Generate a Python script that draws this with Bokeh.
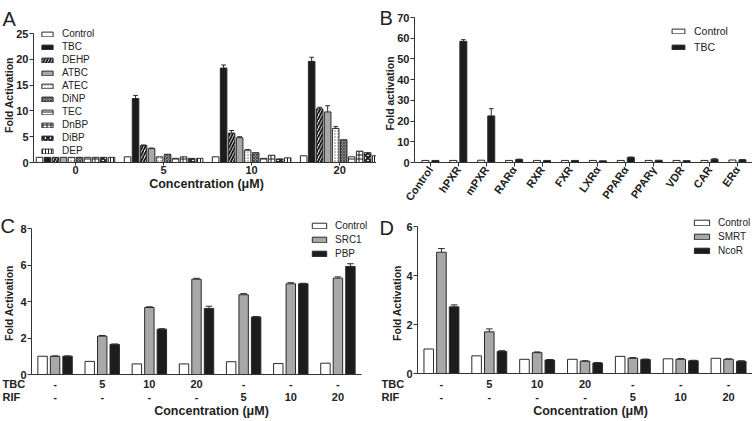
from math import pi
from bokeh.plotting import figure
from bokeh.layouts import column, row
from bokeh.models import Range1d, FixedTicker, Legend, LegendItem, Label
from bokeh.core.properties import value
from bokeh.embed import file_html
from bokeh.resources import INLINE

FONT = "Liberation Sans"
BLACK = "#1c1c1c"
GRAY = "#a8a8a8"
EDGE = "#2a2a2a"
TXT = "#222222"

# ---------------- Panel A data ----------------
a_groups = ["0", "5", "10", "20"]
a_series = ["Control", "TBC", "DEHP", "ATBC", "ATEC", "DiNP", "TEC", "DnBP", "DiBP", "DEP"]
a_control = [1.0, 1.1, 1.1, 1.3]
a_tbc = [1.0, 12.4, 18.3, 19.6]
a_dehp = [1.0, 3.3, 5.7, 10.4]
a_atbc = [1.0, 2.7, 4.8, 9.8]
a_atec = [1.0, 1.1, 2.4, 6.6]
a_dinp = [1.0, 1.6, 1.9, 4.4]
a_tec = [1.0, 0.8, 0.8, 1.1]
a_dnbp = [1.0, 1.1, 1.4, 2.2]
a_dibp = [1.0, 0.8, 0.7, 1.9]
a_dep = [1.0, 0.8, 0.9, 1.3]
a_err_tbc = [0.0, 0.6, 0.6, 0.8]
a_err_dehp = [0.0, 0.1, 0.5, 0.3]
a_err_atbc = [0.0, 0.1, 0.2, 1.2]
a_err_atec = [0.0, 0.0, 0.1, 0.35]

# ---------------- Panel B data ----------------
b_receptors = ["Control", "hPXR", "mPXR", "RARα", "RXR", "FXR", "LXRα", "PPARα", "PPARγ", "VDR", "CAR", "ERα"]
b_control = [1.0, 1.0, 1.1, 1.0, 1.0, 1.0, 1.0, 1.0, 1.0, 1.0, 1.0, 1.2]
b_tbc = [1.0, 58.5, 22.5, 1.5, 1.0, 1.0, 0.8, 2.5, 1.1, 0.9, 1.6, 1.3]
b_tbc_err = [0.0, 0.8, 3.5, 0.1, 0.0, 0.0, 0.0, 0.1, 0.0, 0.0, 0.2, 0.1]

# ---------------- Panel C / D data ----------------
cd_tbc_labels = ["-", "5", "10", "20", "-", "-", "-"]
cd_rif_labels = ["-", "-", "-", "-", "5", "10", "20"]
c_control = [1.0, 0.72, 0.58, 0.58, 0.70, 0.60, 0.62]
c_src1 = [1.0, 2.1, 3.67, 5.22, 4.37, 4.97, 5.28]
c_pbp = [1.0, 1.65, 2.48, 3.62, 3.15, 4.97, 5.92]
c_src1_err = [0.02, 0.04, 0.04, 0.05, 0.06, 0.06, 0.07]
c_pbp_err = [0.02, 0.02, 0.03, 0.12, 0.03, 0.03, 0.15]
d_control = [1.0, 0.72, 0.58, 0.58, 0.70, 0.60, 0.62]
d_smrt = [4.95, 1.70, 0.85, 0.50, 0.62, 0.58, 0.58]
d_ncor = [2.72, 0.90, 0.55, 0.43, 0.57, 0.52, 0.50]
d_smrt_err = [0.15, 0.12, 0.03, 0.02, 0.03, 0.03, 0.02]
d_ncor_err = [0.08, 0.03, 0.02, 0.02, 0.02, 0.02, 0.02]


class Panel:
    """Figure whose whole canvas is the plotting frame; the axes sit at fixed
    data locations so that the data box lands at box=(left, top, right, bottom) px."""

    def __init__(self, w, h, xr, yr, box):
        l, t, r, b = box
        self.w, self.h = w, h
        self.xppu = (r - l) / (xr[1] - xr[0])
        self.yppu = (b - t) / (yr[1] - yr[0])
        x0 = xr[0] - l / self.xppu
        x1 = xr[1] + (w - r) / self.xppu
        self.y0 = yr[0] - (h - b) / self.yppu
        y1 = yr[1] + t / self.yppu
        p = figure(width=w, height=h, x_range=Range1d(x0, x1), y_range=Range1d(self.y0, y1),
                   output_backend="svg", toolbar_location=None,
                   min_border_left=0, min_border_right=0, min_border_top=0, min_border_bottom=0)
        p.outline_line_color = None
        p.xgrid.visible = False
        p.ygrid.visible = False
        p.background_fill_color = "white"
        p.border_fill_color = "white"
        for ax in p.xaxis:
            ax.fixed_location = yr[0]
            ax.bounds = xr
            style_axis(ax)
        for ax in p.yaxis:
            ax.fixed_location = xr[0]
            ax.bounds = yr
            style_axis(ax)
        self.p = p

    def y_of(self, px_from_top):
        return self.y0 + (self.h - px_from_top) / self.yppu

    def label(self, text, x, y, size="11px", style="bold", align="left", angle=0.0, baseline="middle"):
        self.p.add_layout(Label(x=x, y=self.h - y, x_units="screen", y_units="screen", text=text,
                                text_font=FONT, text_font_style=style, text_font_size=size,
                                text_color=TXT, text_align=align, text_baseline=baseline,
                                angle=angle))


def style_axis(ax):
    ax.major_label_text_font = FONT
    ax.major_label_text_font_style = "bold"
    ax.major_label_text_font_size = "11px"
    ax.major_label_text_color = TXT
    ax.minor_tick_line_color = None
    ax.major_tick_in = 0
    ax.major_tick_out = 4
    ax.axis_line_color = "#333"
    ax.major_tick_line_color = "#333"
    ax.major_label_standoff = 1


def err_bars(p, xs, tops, errs, cap):
    x_s, y0, y1 = [], [], []
    for x, t, e in zip(xs, tops, errs):
        if e > 0:
            x_s.append(x); y0.append(t); y1.append(t + e)
    if not x_s:
        return
    p.segment(x0=x_s, y0=y0, x1=x_s, y1=y1, line_color=EDGE, line_width=1)
    p.segment(x0=[x - cap for x in x_s], y0=y1, x1=[x + cap for x in x_s], y1=y1,
              line_color=EDGE, line_width=1)


def make_legend(items, loc, size="10px", lh=12, gw=14, gh=6, spacing=0, standoff=8):
    leg = Legend(items=items, location=loc)
    leg.label_text_font = FONT
    leg.label_text_font_size = size
    leg.label_text_color = TXT
    leg.label_height = lh
    leg.glyph_width = gw
    leg.glyph_height = gh
    leg.spacing = spacing
    leg.padding = 0
    leg.margin = 0
    leg.label_standoff = standoff
    leg.border_line_color = None
    leg.background_fill_alpha = 0
    return leg


# ================= Panel A =================
PA = Panel(376, 210, (-5.25, 37.6), (0, 25), (33, 33, 376, 162))
pA = PA.p
a_vals = [a_control, a_tbc, a_dehp, a_atbc, a_atec, a_dinp, a_tec, a_dnbp, a_dibp, a_dep]
a_errs = {1: a_err_tbc, 2: a_err_dehp, 3: a_err_atbc, 4: a_err_atec}
a_styles = [
    dict(fill_color="white"),
    dict(fill_color=BLACK),
    dict(fill_color="white", hatch_pattern="right_diagonal_line", hatch_color=BLACK, hatch_scale=6, hatch_weight=2),
    dict(fill_color=GRAY),
    dict(fill_color="white", hatch_pattern="dot", hatch_color="#666", hatch_scale=3, hatch_weight=1),
    dict(fill_color="#8c8c8c", hatch_pattern="diagonal_cross", hatch_color="#3a3a3a", hatch_scale=3, hatch_weight=0.8),
    dict(fill_color="white", hatch_pattern="horizontal_line", hatch_color=BLACK, hatch_scale=4, hatch_weight=1),
    dict(fill_color="white", hatch_pattern="cross", hatch_color=BLACK, hatch_scale=4, hatch_weight=1),
    dict(fill_color="white", hatch_pattern="diagonal_cross", hatch_color=BLACK, hatch_scale=5, hatch_weight=2),
    dict(fill_color="white", hatch_pattern="vertical_line", hatch_color=BLACK, hatch_scale=3, hatch_weight=1),
]
a_centers = [g * 11 for g in range(len(a_groups))]
items = []
for i, (name, vals, st) in enumerate(zip(a_series, a_vals, a_styles)):
    xs = [c + (i - 4.5) for c in a_centers]
    r = pA.vbar(x=xs, top=vals, bottom=0, width=0.82, line_color=EDGE, line_width=1, **st)
    items.append(LegendItem(label=name, renderers=[r]))
    if i in a_errs:
        err_bars(pA, xs, vals, a_errs[i], 0.3)
pA.add_layout(make_legend(items, (40, 53), size="10px", lh=13, gw=14, gh=6))
pA.xaxis.ticker = FixedTicker(ticks=a_centers)
pA.xaxis.major_label_overrides = {c: g for c, g in zip(a_centers, a_groups)}
pA.xaxis.major_tick_out = 3
pA.xaxis.major_label_standoff = 0
pA.yaxis.ticker = FixedTicker(ticks=[0, 5, 10, 15, 20, 25])
PA.label("Fold Activation", 8, 94.5, size="10.5px", align="center", angle=pi / 2)
PA.label("Concentration (μM)", 206, 183, size="12.5px", align="center")
PA.label("A", 2, 18, size="20px", style="normal", baseline="alphabetic")

# ================= Panel B =================
PB = Panel(376, 210, (-0.57, 11.54), (0, 70), (38, 17, 376, 162))
pB = PB.p
bx = list(range(len(b_receptors)))
rb1 = pB.vbar(x=[x - 0.18 for x in bx], top=b_control, bottom=0, width=0.25,
              fill_color="white", line_color=EDGE, line_width=1)
rb2 = pB.vbar(x=[x + 0.18 for x in bx], top=b_tbc, bottom=0, width=0.25,
              fill_color=BLACK, line_color=EDGE, line_width=1)
err_bars(pB, [x + 0.18 for x in bx], b_tbc, b_tbc_err, 0.08)
pB.add_layout(make_legend([LegendItem(label="Control", renderers=[rb1]),
                           LegendItem(label="TBC", renderers=[rb2])],
                          (294, 155), size="10.5px", lh=16, gw=16, gh=6))
pB.xaxis.ticker = FixedTicker(ticks=bx)
pB.xaxis.major_label_overrides = {x: r for x, r in zip(bx, b_receptors)}
pB.xaxis.major_label_orientation = 0.96
pB.yaxis.ticker = FixedTicker(ticks=list(range(0, 71, 10)))
PB.label("Fold activation", 13, 93, size="10.5px", align="center", angle=pi / 2)
PB.label("B", 3, 17, size="20px", style="normal", baseline="alphabetic")


# ================= Panels C, D =================
def make_cd(ctrl, s2, s3, e2, e3, names, yr, yticks, box, leg_loc, leg_gw, letter_txt, letter_pos,
            rowlab_x, ylab_x, xlab_x):
    P = Panel(376, 210, (-0.5, 6.5), yr, box)
    p = P.p
    gx = list(range(len(ctrl)))
    r1 = p.vbar(x=[x - 0.265 for x in gx], top=ctrl, bottom=0, width=0.2,
                fill_color="white", line_color=EDGE, line_width=1)
    r2 = p.vbar(x=gx, top=s2, bottom=0, width=0.2, fill_color=GRAY, line_color=EDGE, line_width=1)
    r3 = p.vbar(x=[x + 0.265 for x in gx], top=s3, bottom=0, width=0.2,
                fill_color=BLACK, line_color=EDGE, line_width=1)
    err_bars(p, gx, s2, e2, 0.07)
    err_bars(p, [x + 0.265 for x in gx], s3, e3, 0.07)
    p.add_layout(make_legend([LegendItem(label=n, renderers=[r]) for n, r in zip(names, [r1, r2, r3])],
                             leg_loc, size="10px", lh=13, gw=leg_gw, gh=7, spacing=1, standoff=7))
    p.xaxis.ticker = FixedTicker(ticks=gx)
    p.xaxis.major_tick_out = 0
    p.xaxis.major_label_text_color = None
    p.yaxis.ticker = FixedTicker(ticks=yticks)
    for labels, ypx in ((cd_tbc_labels, 173), (cd_rif_labels, 186)):
        p.text(x=gx, y=[P.y_of(ypx)] * len(gx), text=labels, text_font=value(FONT),
               text_font_style="bold", text_font_size="11px", text_color=TXT,
               text_align="center", text_baseline="middle")
    P.label("TBC", rowlab_x, 173)
    P.label("RIF", rowlab_x, 186)
    P.label("Fold Activation", ylab_x, 92.5, size="10.5px", align="center", angle=pi / 2)
    P.label("Concentration (μM)", xlab_x, 200, size="12.5px", align="center")
    P.label(letter_txt, letter_pos[0], letter_pos[1], size="20px", style="normal", baseline="alphabetic")
    return p


pC = make_cd(c_control, c_src1, c_pbp, c_src1_err, c_pbp_err, ["Control", "SRC1", "PBP"],
             (0, 8), [0, 2, 4, 6, 8], (31, 18, 361, 164), (310, 160), 18, "C", (0, 15), 2, 8, 211)
pD = make_cd(d_control, d_smrt, d_ncor, d_smrt_err, d_ncor_err, ["Control", "SMRT", "NcoR"],
             (0, 6), [0, 2, 4, 6], (41, 16, 376, 163), (316, 163), 19, "D", (3, 17), 5, 20, 214)

layout = column(row(pA, pB), row(pC, pD))
open("out.html", "w").write(file_html(layout, INLINE))
